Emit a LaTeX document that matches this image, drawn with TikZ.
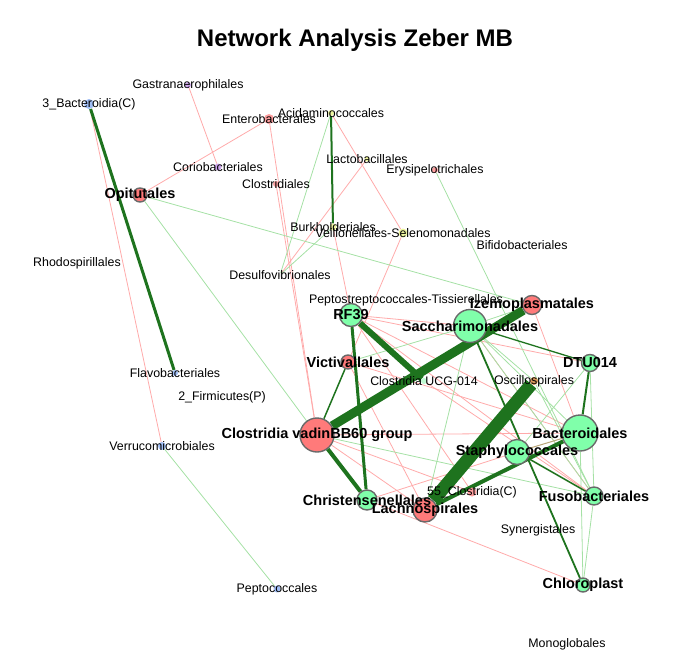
\documentclass[tikz,border=0pt]{standalone}
\usepackage{fontspec}
\setmainfont{Liberation Sans}
\usetikzlibrary{backgrounds}
\definecolor{ngreen}{RGB}{128,255,170}
\definecolor{nred}{RGB}{255,122,122}
\definecolor{nblue}{RGB}{160,190,245}
\definecolor{npurple}{RGB}{205,165,235}
\definecolor{nyellow}{RGB}{238,245,160}
\definecolor{npink}{RGB}{255,160,160}
\definecolor{norange}{RGB}{215,150,90}
\definecolor{nlgreen}{RGB}{190,250,210}
\definecolor{ntiny}{RGB}{235,235,235}
\definecolor{nborder}{RGB}{105,105,105}
\definecolor{epos}{RGB}{165,225,165}
\definecolor{eneg}{RGB}{255,170,170}
\definecolor{edark}{RGB}{30,115,30}
\definecolor{etan}{RGB}{185,165,120}
\begin{document}
\begin{tikzpicture}[x=1pt,y=-1pt,
  big/.style={circle,draw=nborder,line width=1.4pt,inner sep=0pt,minimum size=#1},
  sml/.style={circle,draw=none,inner sep=0pt,minimum size=#1},
  lab/.style={inner sep=0pt,font=\fontsize{12.4}{14}\selectfont},
  blab/.style={inner sep=0pt,font=\fontsize{14.5}{16}\selectfont\bfseries},
  negedge/.style={draw=eneg,line width=0.8pt},
  posedge/.style={draw=epos,line width=0.8pt},
  dk/.style={draw=edark,line width=#1},
  tanedge/.style={draw=etan,line width=1pt}]
\useasboundingbox (0,0) rectangle (672,672);
% nodes
\node[sml=10pt,fill=nblue] (b3) at (89,104) {};
\node[sml=6pt,fill=npurple] (gast) at (188,85) {};
\node[sml=10pt,fill=npink] (ente) at (269,119) {};
\node[sml=6pt,fill=nyellow] (acid) at (331,113) {};
\node[sml=7pt,fill=npurple] (cori) at (218,167) {};
\node[sml=6pt,fill=npink] (clos) at (276,184) {};
\node[sml=5pt,fill=nyellow] (lact) at (367,159) {};
\node[sml=6pt,fill=npink] (erys) at (435,170) {};
\node[big=14pt,fill=nred] (opit) at (140,195) {};
\node[sml=7pt,fill=nyellow] (burk) at (333,227) {};
\node[sml=9pt,fill=nyellow] (veil) at (403,233) {};
\node[sml=4pt,fill=ntiny] (bifi) at (522,245) {};
\node[sml=4pt,fill=ntiny] (rhod) at (77,263) {};
\node[sml=4pt,fill=ntiny] (desu) at (280,275) {};
\node[sml=4pt,fill=ntiny] (pept) at (406,300) {};
\node[big=19pt,fill=nred] (izem) at (532,305) {};
\node[big=23pt,fill=ngreen] (rf39) at (351,315) {};
\node[big=33pt,fill=ngreen] (sacc) at (470,326) {};
\node[big=17pt,fill=ngreen] (dtu) at (590,363) {};
\node[big=14pt,fill=nred] (vict) at (348,362) {};
\node[sml=6pt,fill=nlgreen] (ucg) at (424,381) {};
\node[sml=8pt,fill=norange] (osci) at (534,381) {};
\node[sml=6pt,fill=nblue] (flav) at (175,373) {};
\node[sml=4pt,fill=ntiny] (firm) at (222,397) {};
\node[big=36pt,fill=ngreen] (bact) at (580,433) {};
\node[big=34pt,fill=nred] (vadi) at (317,435) {};
\node[sml=8pt,fill=nblue] (verr) at (162,446) {};
\node[big=25pt,fill=ngreen] (stap) at (517,452) {};
\node[sml=9pt,fill=npink] (c55) at (472,492) {};
\node[big=20pt,fill=ngreen] (chri) at (367,500) {};
\node[big=18pt,fill=ngreen] (fuso) at (594,496) {};
\node[big=24pt,fill=nred] (lach) at (425,510) {};
\node[sml=4pt,fill=ntiny] (syne) at (538,530) {};
\node[big=14pt,fill=ngreen] (chlo) at (583,585) {};
\node[sml=7pt,fill=nblue] (pepc) at (277,589) {};
\node[sml=4pt,fill=ntiny] (mono) at (567,644) {};
% edges
\begin{scope}[on background layer]
\draw[negedge] (b3) -- (verr);
\draw[negedge] (gast) -- (cori);
\draw[negedge] (ente) -- (opit);
\draw[negedge] (ente) -- (vadi);
\draw[negedge] (clos) -- (vadi);
\draw[negedge] (acid) -- (veil);
\draw[negedge] (lact) -- (desu);
\draw[negedge] (veil) -- (vict);
\draw[negedge] (burk) -- (rf39);
\draw[negedge] (rf39) -- (sacc);
\draw[negedge] (rf39) -- (dtu);
\draw[negedge] (rf39) -- (bact);
\draw[negedge] (rf39) -- (fuso);
\draw[negedge] (rf39) -- (c55);
\draw[negedge] (vict) -- (bact);
\draw[negedge] (vict) -- (lach);
\draw[negedge] (izem) -- (bact);
\draw[negedge] (vadi) -- (bact);
\draw[negedge] (vadi) -- (lach);
\draw[negedge] (vadi) -- (c55);
\draw[negedge] (chri) -- (stap);
\draw[negedge] (chri) -- (chlo);
\draw[negedge] (stap) -- (fuso);
\draw[negedge] (sacc) -- (fuso);
\draw[negedge] (ucg) -- (fuso);
\draw[posedge] (opit) -- (izem);
\draw[posedge] (opit) -- (vadi);
\draw[posedge] (acid) -- (desu);
\draw[posedge] (desu) -- (burk);
\draw[posedge] (verr) -- (pepc);
\draw[posedge] (erys) -- (fuso);
\draw[posedge] (vict) -- (sacc);
\draw[posedge] (sacc) -- (lach);
\draw[posedge] (sacc) -- (bact);
\draw[posedge] (sacc) -- (fuso);
\draw[posedge] (sacc) -- (osci);
\draw[posedge] (sacc) -- (izem);
\draw[posedge] (osci) -- (fuso);
\draw[posedge] (vadi) -- (fuso);
\draw[posedge] (bact) -- (chlo);
\draw[posedge] (fuso) -- (chlo);
\draw[posedge] (dtu) -- (stap);
\draw[posedge] (dtu) -- (fuso);
\draw[dk=3pt] (b3) -- (flav);
\draw[dk=2pt] (acid) -- (burk);
\draw[dk=9pt] (izem) -- (vadi);
\draw[dk=6pt] (rf39) -- (ucg);
\draw[dk=13pt] (osci) -- (lach);
\draw[dk=4pt] (bact) -- (lach);
\draw[dk=4pt] (vadi) -- (chri);
\draw[dk=3pt] (rf39) -- (chri);
\draw[dk=1.5pt] (vict) -- (vadi);
\draw[dk=1.3pt] (sacc) -- (dtu);
\draw[dk=2pt] (dtu) -- (bact);
\draw[dk=1.8pt] (sacc) -- (chlo);
\draw[dk=1.5pt] (stap) -- (fuso);
\draw[tanedge] (bact) -- (stap);
\end{scope}
% labels
\node[lab] (gast-t) at (gast) {Gastranaerophilales};
\node[lab] (b3-t) at (b3) {3\_Bacteroidia(C)};
\node[lab] (ente-t) at (ente) {Enterobacterales};
\node[lab] (acid-t) at (acid) {Acidaminococcales};
\node[lab] (cori-t) at (cori) {Coriobacteriales};
\node[lab] (clos-t) at (clos) {Clostridiales};
\node[lab] (lact-t) at (lact) {Lactobacillales};
\node[lab] (erys-t) at (erys) {Erysipelotrichales};
\node[blab] (opit-t) at (opit) {Opitutales};
\node[lab] (burk-t) at (burk) {Burkholderiales};
\node[lab] (veil-t) at (veil) {Veillonellales-Selenomonadales};
\node[lab] (bifi-t) at (bifi) {Bifidobacteriales};
\node[lab] (rhod-t) at (rhod) {Rhodospirillales};
\node[lab] (desu-t) at (desu) {Desulfovibrionales};
\node[lab] (pept-t) at (pept) {Peptostreptococcales-Tissierellales};
\node[blab] (izem-t) at (izem) {Izemoplasmatales};
\node[blab] (rf39-t) at (rf39) {RF39};
\node[blab] (sacc-t) at (sacc) {Saccharimonadales};
\node[blab] (dtu-t) at (dtu) {DTU014};
\node[blab] (vict-t) at (vict) {Victivallales};
\node[lab] (ucg-t) at (ucg) {Clostridia UCG-014};
\node[lab] (osci-t) at (osci) {Oscillospirales};
\node[lab] (flav-t) at (flav) {Flavobacteriales};
\node[lab] (firm-t) at (firm) {2\_Firmicutes(P)};
\node[blab] (bact-t) at (bact) {Bacteroidales};
\node[blab] (vadi-t) at (vadi) {Clostridia vadinBB60 group};
\node[lab] (verr-t) at (verr) {Verrucomicrobiales};
\node[blab] (stap-t) at (stap) {Staphylococcales};
\node[lab] (c55-t) at (c55) {55\_Clostridia(C)};
\node[blab] (chri-t) at (chri) {Christensenellales};
\node[blab] (fuso-t) at (fuso) {Fusobacteriales};
\node[blab] (lach-t) at (lach) {Lachnospirales};
\node[lab] (syne-t) at (syne) {Synergistales};
\node[blab] (chlo-t) at (chlo) {Chloroplast};
\node[lab] (pepc-t) at (pepc) {Peptococcales};
\node[lab] (mono-t) at (mono) {Monoglobales};
\node[inner sep=0pt,font=\fontsize{24}{28}\selectfont\bfseries] (title) at (355,40) {Network Analysis Zeber MB};
\end{tikzpicture}
\end{document}
